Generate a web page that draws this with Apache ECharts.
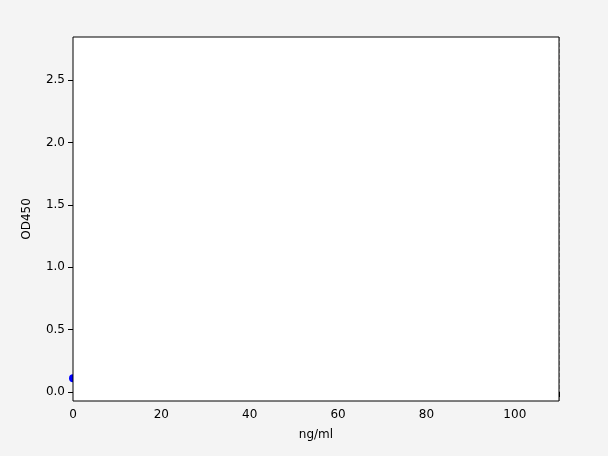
<!DOCTYPE html>
<html><head><meta charset="utf-8">
<script src="https://cdn.jsdelivr.net/npm/echarts@6/dist/echarts.min.js"></script>
<style>html,body{margin:0;background:#f4f4f4}#c{width:608px;height:456px}</style>
</head><body><div id="c"></div>
<script>
const pointsX = [0, 1.56, 3.12, 6.25, 12.5, 25, 50, 100];
const pointsY = [0.11, 0.27, 0.34, 0.67, 1.24, 1.70, 1.89, 2.71];
const curveX = [0, 1, 2, 4, 6, 8, 10, 13, 16, 20, 25, 30, 35, 40, 50, 60, 70, 80, 90, 100, 110];
const curveY = [0.10, 0.22, 0.33, 0.52, 0.68, 0.84, 0.98, 1.15, 1.29, 1.44, 1.60, 1.74, 1.85, 1.95, 2.13, 2.27, 2.38, 2.47, 2.55, 2.61, 2.67];
const xTicks = [0, 20, 40, 60, 80, 100];
const yTicks = [0.0, 0.5, 1.0, 1.5, 2.0, 2.5];
const chart = echarts.init(document.getElementById('c'));
const ax = {color:'#000', fontSize:12, fontFamily:'DejaVu Sans'};
chart.setOption({
  backgroundColor:'#f4f4f4',
  grid:{left:73, right:49, top:37, bottom:55, show:true, backgroundColor:'#fff', borderColor:'#000', borderWidth:1, z:5},
  xAxis:{type:'value', min:0, max:110, interval:20, name:'ng/ml', nameLocation:'middle', nameGap:28, nameTextStyle:ax,
    axisLine:{show:false}, axisTick:{show:true, lineStyle:{color:'#000'}}, axisLabel:{...ax, formatter:v=>xTicks.includes(v)?String(v):''},
    splitLine:{lineStyle:{type:'dashed', color:'#b0b0b0'}}},
  yAxis:{type:'value', min:-0.072, max:2.845, name:'OD450', nameLocation:'middle', nameGap:40, nameTextStyle:ax,
    axisLine:{show:false},
    axisLabel:{...ax, customValues: yTicks, formatter:v=>v.toFixed(1)},
    axisTick:{show:true, customValues:yTicks, lineStyle:{color:'#000'}},
    splitLine:{lineStyle:{type:'dashed', color:'#b0b0b0'}}},
  series:[
    {type:'line', data:curveX.map((x,i)=>[x,curveY[i]]), smooth:true, showSymbol:false, lineStyle:{color:'#d62728', width:1.6}, z:2, silent:true},
    {type:'scatter', data:pointsX.map((x,i)=>[x,pointsY[i]]), symbolSize:8, itemStyle:{color:'#0000ff', opacity:1}, z:3}
  ]
});
</script></body></html>
